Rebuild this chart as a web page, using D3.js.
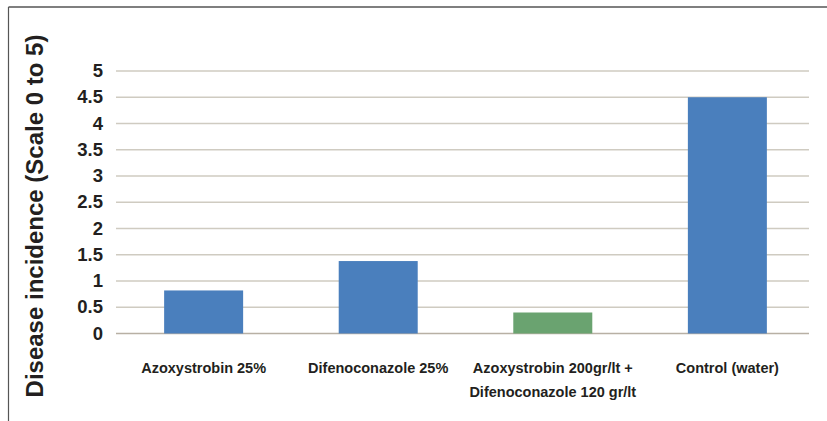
<!doctype html>
<html>
<head>
<meta charset="utf-8">
<script src="https://cdnjs.cloudflare.com/ajax/libs/d3/7.8.5/d3.min.js"></script>
<style>
  body { margin: 0; background: #fff; }
  svg { display: block; }
  text { font-family: "Liberation Sans", Arial, Helvetica, sans-serif; font-weight: bold; fill: #231f20; }
</style>
</head>
<body>
<svg width="827" height="421"></svg>
<script>
// data
var treatments = [
    ["Azoxystrobin 25%"],
    ["Difenoconazole 25%"],
    ["Azoxystrobin 200gr/lt +", "Difenoconazole 120 gr/lt"],
    ["Control (water)"]
];
var incidence = [0.82, 1.38, 0.4, 4.5];
var barColors = ["#4a7fbd", "#4a7fbd", "#6aa370", "#4a7fbd"];
var yTicks = [0, 0.5, 1, 1.5, 2, 2.5, 3, 3.5, 4, 4.5, 5];
var yTitle = "Disease incidence (Scale 0 to 5)";

var svg = d3.select("svg");

// frame (top and left edges only)
svg.append("line").attr("x1", 8.5).attr("x2", 827).attr("y1", 7).attr("y2", 7)
    .style("stroke", "#555").style("stroke-width", 1.5);
svg.append("line").attr("x1", 8.5).attr("x2", 8.5).attr("y1", 7).attr("y2", 421)
    .style("stroke", "#555").style("stroke-width", 1.2);

var x = d3.scaleBand()
    .domain(d3.range(treatments.length))
    .range([116.3, 814.7])
    .paddingInner(0.5475)
    .paddingOuter(0.274);

var y = d3.scaleLinear().domain([0, 5]).range([333.5, 71]);

// gridlines
svg.selectAll("line.grid")
    .data(yTicks)
    .enter()
    .append("line")
    .attr("class", "grid")
    .attr("x1", 116)
    .attr("x2", 809)
    .attr("y1", d => y(d))
    .attr("y2", d => y(d))
    .style("stroke", d => d === 0 ? "#b8b0a4" : "#cfcbc1")
    .style("stroke-width", 1.5);

// tick labels
svg.selectAll("text.tick")
    .data(yTicks)
    .enter()
    .append("text")
    .attr("class", "tick")
    .attr("x", 103)
    .attr("y", d => y(d))
    .attr("dy", "0.33em")
    .attr("text-anchor", "end")
    .style("font-size", "18.5px")
    .text(d => d);

// bars
svg.selectAll("rect.bar")
    .data(incidence)
    .enter()
    .append("rect")
    .attr("class", "bar")
    .attr("x", (d, i) => x(i))
    .attr("width", x.bandwidth())
    .attr("y", d => y(d))
    .attr("height", d => y(0) - y(d))
    .style("fill", (d, i) => barColors[i]);

// category labels
var cat = svg.selectAll("text.cat")
    .data(treatments)
    .enter()
    .append("text")
    .attr("class", "cat")
    .attr("text-anchor", "middle")
    .style("font-size", "14.5px");

cat.selectAll("tspan")
    .data((d, i) => d.map(t => ({t: t, i: i})))
    .enter()
    .append("tspan")
    .attr("x", d => x(d.i) + x.bandwidth() / 2)
    .attr("y", (d, j) => 373 + j * 24)
    .text(d => d.t);

// y axis title
svg.append("text")
    .attr("transform", "translate(43,216) rotate(-90)")
    .attr("text-anchor", "middle")
    .style("font-size", "24px")
    .text(yTitle);
</script>
</body>
</html>
